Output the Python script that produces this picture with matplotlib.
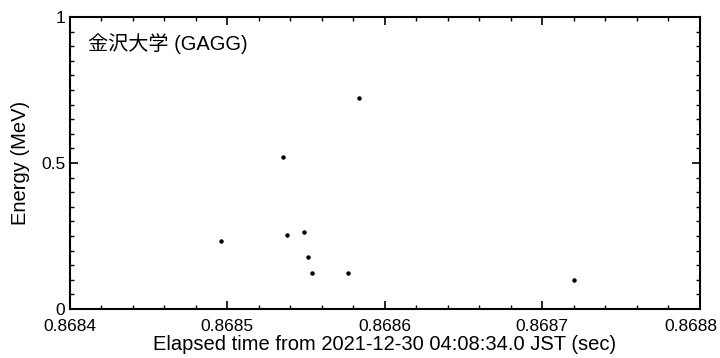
import matplotlib
matplotlib.use("Agg")
import matplotlib.pyplot as plt
import matplotlib.transforms as mtransforms
from matplotlib.ticker import MultipleLocator, FuncFormatter

# event times (sec) and energies (MeV)
times = [0.868496, 0.8685353, 0.8685837, 0.868538, 0.868549,
         0.868551, 0.868554, 0.868577, 0.8687203]
energies = [0.233, 0.520, 0.724, 0.253, 0.265, 0.179, 0.124, 0.124, 0.099]

label_text = "金沢大学 (GAGG)"
x_label = "Elapsed time from 2021-12-30 04:08:34.0 JST (sec)"
y_label = "Energy (MeV)"

plt.rcParams['font.family'] = ['Liberation Sans', 'Noto Sans CJK JP', 'DejaVu Sans']

fig = plt.figure(figsize=(7.2, 3.58), dpi=100)
ax = fig.add_axes([69.5 / 720, 1 - 309 / 358, 630.5 / 720, 292 / 358])

ax.plot(times, energies, 'o', color='black', markersize=2.2, linestyle='none')

ax.set_xlim(0.8684, 0.8688)
ax.set_ylim(0, 1)

ax.xaxis.set_major_locator(MultipleLocator(0.0001))
ax.xaxis.set_minor_locator(MultipleLocator(0.00002))
ax.yaxis.set_major_locator(MultipleLocator(0.5))
ax.yaxis.set_minor_locator(MultipleLocator(0.05))
ax.xaxis.set_major_formatter(FuncFormatter(lambda v, p: f"{v:.4f}"))
ax.yaxis.set_major_formatter(FuncFormatter(lambda v, p: f"{v:g}"))

ax.tick_params(which='both', direction='in', top=True, right=True, labelsize=12.5)
ax.tick_params(axis='x', pad=7)
ax.tick_params(axis='y', pad=3)
ax.tick_params(which='major', length=5.5, width=1.2)
ax.tick_params(which='minor', length=2.8, width=1.0)
for s in ax.spines.values():
    s.set_linewidth(1.5)

ax.set_xlabel(x_label, fontsize=14.5, labelpad=1)
ax.set_ylabel(y_label, fontsize=14.5, labelpad=8)

ax.text(0.03, 0.91, label_text, transform=ax.transAxes, fontsize=14.5,
        ha='left', va='center')

# nudge the rightmost tick label inward so it stays inside the figure
fig.canvas.draw()
last = [t for t in ax.get_xticklabels() if t.get_text() == "0.8688"]
for t in last:
    t.set_transform(t.get_transform() +
                    mtransforms.ScaledTranslation(-0.09, 0, fig.dpi_scale_trans))

fig.savefig("out.png", dpi=100)
